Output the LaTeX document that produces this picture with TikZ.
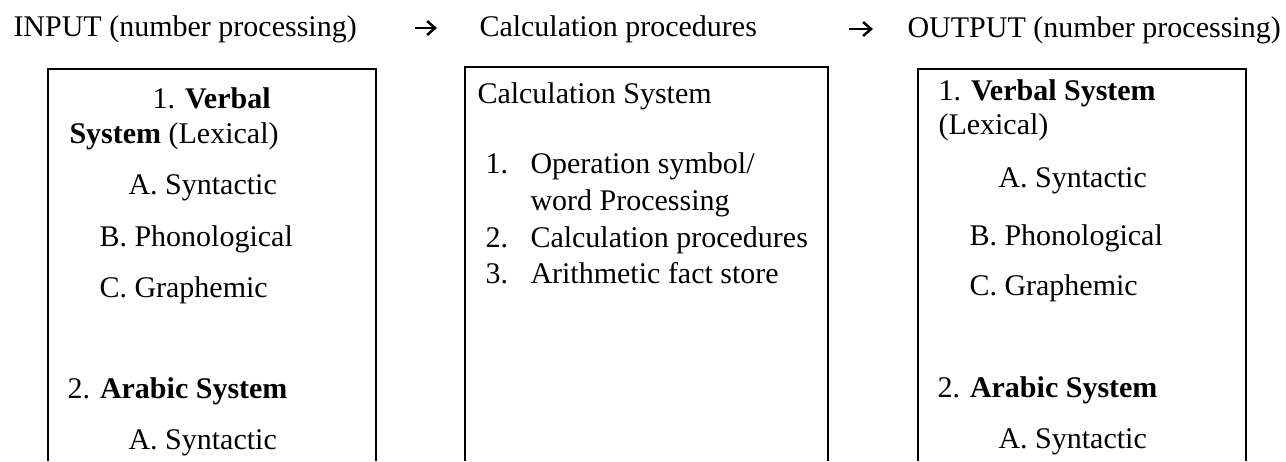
\documentclass[tikz,border=0pt]{standalone}
\usepackage{fontspec}
\setmainfont{Liberation Serif}
\usetikzlibrary{arrows.meta}

\begin{document}
\begin{tikzpicture}
[x=0.4pt, y=-0.4pt, every node/.style={font=\fontsize{12}{14}\selectfont},
txt/.style={anchor=base west, inner sep=0pt},
box/.style={draw, line width=0.8pt},
arr/.style={line width=1pt, -{Straight Barb[length=3.2pt, width=5.6pt, line width=1pt]}}]
\useasboundingbox (0,0) rectangle (1286,461);

% headers
\node[txt] (in) at (13,36) {INPUT (number processing)};
\node[txt] (calc) at (479,36) {Calculation procedures};
\node[txt] (out) at (907,37) {OUTPUT (number processing)};
\coordinate (a1s) at (415,28);
\coordinate (a1e) at (437,28);
\coordinate (a2s) at (849,29);
\coordinate (a2e) at (873,29);
\draw[arr] (a1s) -- (a1e);
\draw[arr] (a2s) -- (a2e);

% boxes, open at the bottom
\draw[box] (48,461) |- (376,69) -- (376,461);
\draw[box] (465,461) |- (828,67) -- (828,461);
\draw[box] (918,461) |- (1246,69) -- (1246,461);

% input box
\node[txt] (iv) at (152,108) {1. \textbf{Verbal}};
\node[txt] (ivs) at (69,143) {\textbf{System} (Lexical)};
\node[txt] (ia) at (128,194) {A. Syntactic};
\node[txt] (ib) at (99,246) {B. Phonological};
\node[txt] (ic) at (99,297) {C. Graphemic};
\node[txt] (iar) at (67,398) {2. \textbf{Arabic System}};
\node[txt] (iaa) at (128,449) {A. Syntactic};

% calculation box
\node[txt] (cs) at (477,103) {Calculation System};
\node[txt] (c1) at (485,173) {1.};
\node[txt] (c1t) at (530,173) {Operation symbol/};
\node[txt] (c1w) at (530,210) {word Processing};
\node[txt] (c2) at (485,247) {2.};
\node[txt] (c2t) at (530,247) {Calculation procedures};
\node[txt] (c3) at (485,283) {3.};
\node[txt] (c3t) at (530,283) {Arithmetic fact store};

% output box
\node[txt] (ov) at (938,100) {1. \textbf{Verbal System}};
\node[txt] (ol) at (938,134) {(Lexical)};
\node[txt] (oa) at (998,187) {A. Syntactic};
\node[txt] (ob) at (969,245) {B. Phonological};
\node[txt] (oc) at (969,295) {C. Graphemic};
\node[txt] (oar) at (937,397) {2. \textbf{Arabic System}};
\node[txt] (oaa) at (998,448) {A. Syntactic};
\end{tikzpicture}
\end{document}
